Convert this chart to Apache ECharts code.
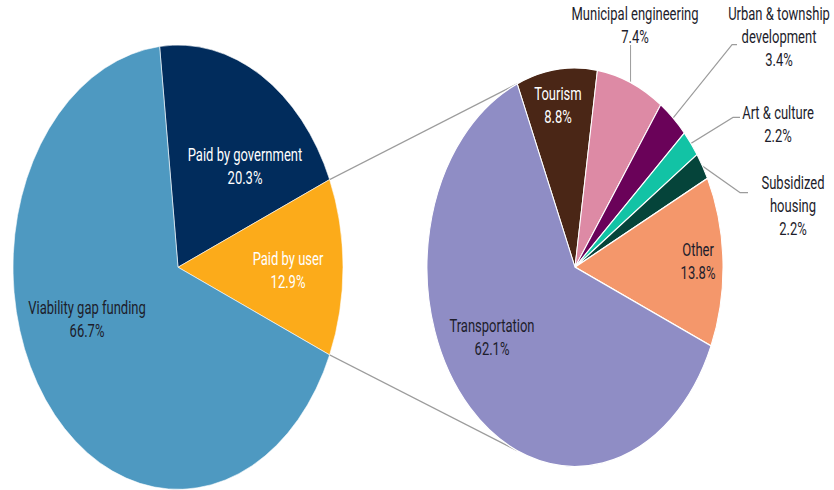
<!DOCTYPE html>
<html>
<head>
<meta charset="utf-8">
<script src="https://cdn.jsdelivr.net/npm/echarts@6/dist/echarts.min.js"></script>
<style>
  html, body { margin: 0; padding: 0; background: #ffffff; width: 834px; height: 490px; overflow: hidden; }
  #frame { width: 834px; height: 490px; overflow: hidden; }
  /* the chart is laid out on a flatter canvas and stretched to the frame height */
  #chart { width: 834px; height: 364px; transform: scaleY(1.3462); transform-origin: 0 0; }
</style>
</head>
<body>
<div id="frame"><div id="chart"></div></div>
<script>
// Project funding split (left pie)
const fundingNames = ['Paid by government', 'Paid by user', 'Viability gap funding'];
const fundingShares = [20.3, 12.9, 66.7];

// Sector split of the user-paid share (right pie)
const sectorNames = ['Tourism', 'Municipal engineering', 'Urban & township\ndevelopment',
  'Art & culture', 'Subsidized\nhousing', 'Other', 'Transportation'];
const sectorShares = [8.8, 7.4, 3.4, 2.2, 2.2, 13.8, 62.1];

const fundingColors = ['#012c5c', '#fcab1a', '#4e99c1'];
const sectorColors = ['#4a2616', '#dd8aa5', '#6a0259', '#12c3a5', '#05443a', '#f4976b', '#8f8dc5'];
const fundingTextColors = ['#ffffff', '#ffffff', '#1d1d2b'];
const sectorTextColors = ['#ffffff', '#1d1d2b', '#1d1d2b', '#1d1d2b', '#1d1d2b', '#1d1d2b', '#1d1d2b'];

// geometry of the two pies (unstretched pixels)
const leftCenter = [178, 198.5], leftRadius = 165;
const rightCenter = [575, 198.5], rightRadius = 148;
const rightStart = 113;

// label placement relative to each pie centre, plus leader-line bends relative to the label
const fundingLabelSpots = [[67, -74.5], [110, 3], [-91, 39]];
const sectorLabelSpots = [[-17, -120], [60, -179], [204, -170.5], [203, -106],
  [218, -45], [123, -4], [-83, 52.5]];
const sectorGuides = [null, 'vertical', [[-47, 5.2], [-42, 5.2]], [[-45, -5.3], [-38, -5.3]],
  [[-53, -10.4], [-45, -10.4]], null, null];
const outsideLabels = [false, true, true, true, true, false, false];

const sum = a => a.reduce((s, v) => s + v, 0);
const fundingTotal = sum(fundingShares);
// the user-paid slice is centred on the 3 o'clock direction
const leftStart = (fundingShares[1] / 2 + fundingShares[0]) / fundingTotal * 360;

const font = { fontFamily: 'Roboto, "DejaVu Sans", sans-serif', fontSize: 13, lineHeight: 17 };

function fmt(name, v) { return name + '\n' + v.toFixed(1) + '%'; }

const fundingData = fundingNames.map((n, i) => ({
  name: n, value: fundingShares[i],
  itemStyle: { color: fundingColors[i] },
  label: { color: fundingTextColors[i] }
}));
const sectorData = sectorNames.map((n, i) => ({
  name: n, value: sectorShares[i],
  itemStyle: { color: sectorColors[i] },
  label: { color: sectorTextColors[i], position: outsideLabels[i] ? 'outside' : 'inside' },
  labelLine: { show: outsideLabels[i] }
}));

// bridge lines from the user-paid slice edges to the sector pie
const half = fundingShares[1] / fundingTotal * Math.PI;
const rs = rightStart * Math.PI / 180;
const upperFrom = [leftCenter[0] + leftRadius * Math.cos(half), leftCenter[1] - leftRadius * Math.sin(half)];
const lowerFrom = [leftCenter[0] + leftRadius * Math.cos(half), leftCenter[1] + leftRadius * Math.sin(half)];
const upperTo = [rightCenter[0] + rightRadius * Math.cos(rs), rightCenter[1] - rightRadius * Math.sin(rs)];
const lowerTo = [rightCenter[0] + rightRadius * Math.cos(rs), rightCenter[1] + rightRadius * Math.sin(rs)];

const chart = echarts.init(document.getElementById('chart'), null, { renderer: 'svg' });
chart.setOption({
  animation: false,
  backgroundColor: '#ffffff',
  graphic: [
    { type: 'line', z: 0, shape: { x1: upperFrom[0], y1: upperFrom[1], x2: upperTo[0], y2: upperTo[1] },
      style: { stroke: '#9c9c9c', lineWidth: 1 } },
    { type: 'line', z: 0, shape: { x1: lowerFrom[0], y1: lowerFrom[1], x2: lowerTo[0], y2: lowerTo[1] },
      style: { stroke: '#9c9c9c', lineWidth: 1 } }
  ],
  series: [
    {
      type: 'pie',
      center: leftCenter,
      radius: [0, leftRadius],
      startAngle: leftStart,
      clockwise: true,
      avoidLabelOverlap: false,
      itemStyle: { borderColor: '#ffffff', borderWidth: 0.5 },
      label: Object.assign({ show: true, position: 'inside', align: 'center',
        formatter: p => fmt(p.name, p.value) }, font),
      labelLine: { show: false },
      labelLayout: p => ({
        x: leftCenter[0] + fundingLabelSpots[p.dataIndex][0],
        y: leftCenter[1] + fundingLabelSpots[p.dataIndex][1],
        align: 'center', verticalAlign: 'middle'
      }),
      emphasis: { disabled: true },
      data: fundingData
    },
    {
      type: 'pie',
      center: rightCenter,
      radius: [0, rightRadius],
      startAngle: rightStart,
      clockwise: true,
      avoidLabelOverlap: false,
      itemStyle: { borderColor: '#ffffff', borderWidth: 1 },
      label: Object.assign({ show: true, align: 'center',
        formatter: p => fmt(p.name, p.value) }, font),
      labelLine: { show: true, smooth: false, length: 10, length2: 10,
        lineStyle: { color: '#9c9c9c', width: 1 } },
      labelLayout: p => {
        const i = p.dataIndex;
        const x = rightCenter[0] + sectorLabelSpots[i][0];
        const y = rightCenter[1] + sectorLabelSpots[i][1];
        const out = { x: x, y: y, align: 'center', verticalAlign: 'middle' };
        const g = sectorGuides[i];
        if (g && p.labelLinePoints) {
          const s = p.labelLinePoints[0];
          if (g === 'vertical') {
            out.labelLinePoints = [[s[0], s[1]], [s[0], y + 14], [s[0], y + 14]];
          } else {
            out.labelLinePoints = [[s[0], s[1]], [x + g[0][0], y + g[0][1]], [x + g[1][0], y + g[1][1]]];
          }
        }
        return out;
      },
      emphasis: { disabled: true },
      data: sectorData
    }
  ]
});
</script>
</body>
</html>
